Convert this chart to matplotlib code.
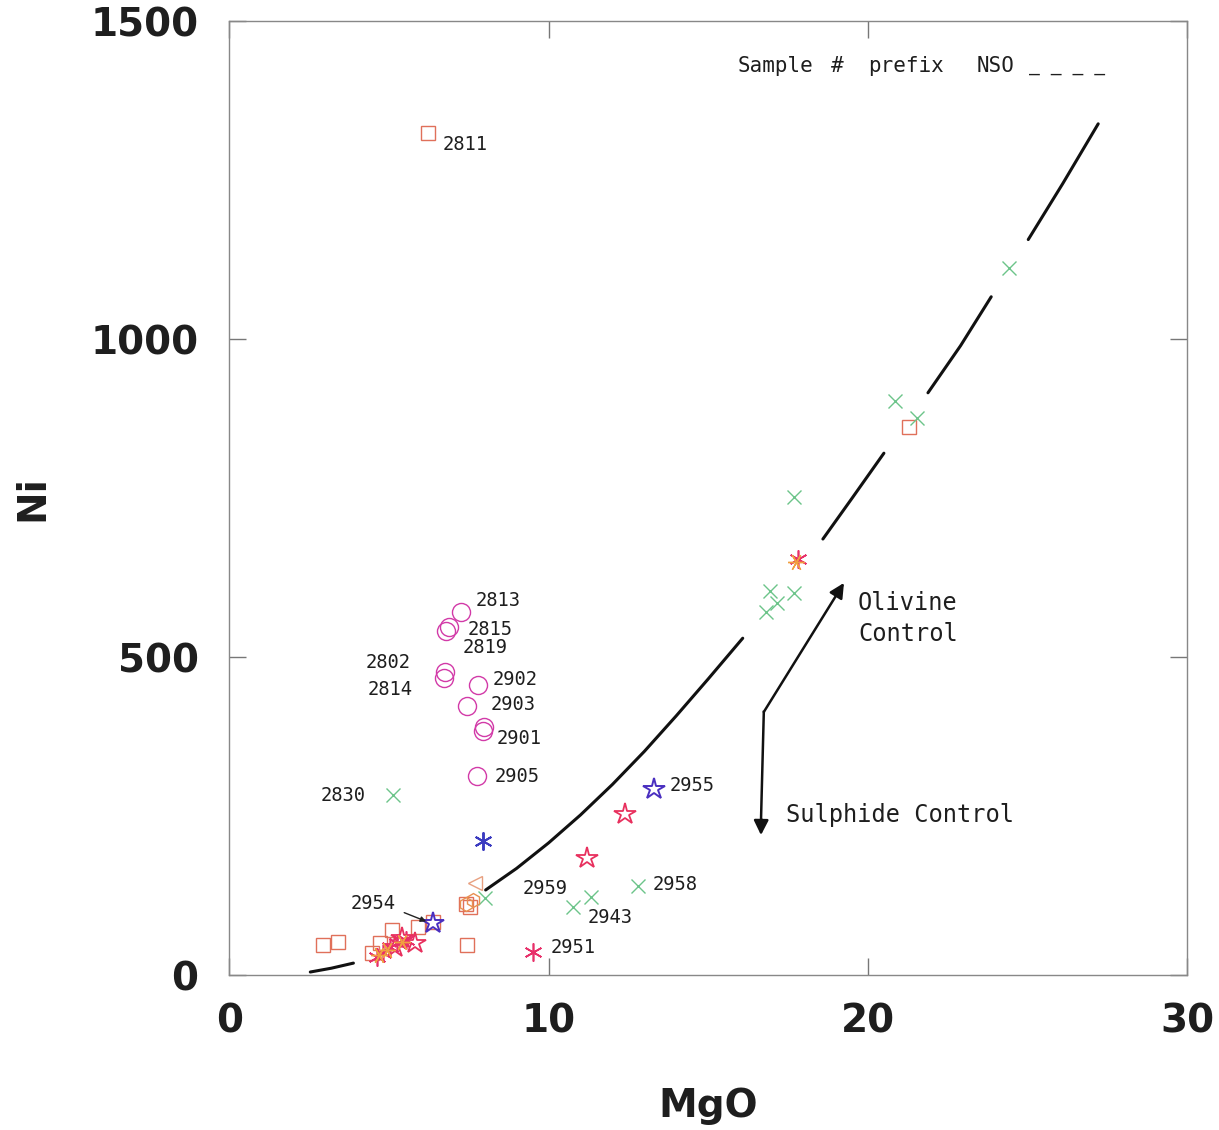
import matplotlib
matplotlib.use("Agg")
import matplotlib.pyplot as plt

# MgO (wt%) vs Ni (ppm) by sample group
sq_mgo = [6.24, 21.29, 2.95, 3.42, 7.46, 4.48, 4.73, 5.10, 5.92, 6.39, 7.40, 7.55]
sq_ni = [1325, 862, 47, 52, 47, 35, 50, 71, 76, 84, 112, 108]

circ_mgo = [7.27, 6.87, 6.80, 6.77, 6.74, 7.80, 7.46, 7.99, 7.96, 7.77]
circ_ni = [571, 548, 541, 477, 467, 456, 423, 390, 384, 313]

cross_mgo = [5.14, 24.42, 20.85, 21.54, 17.68, 16.93, 17.15, 16.80, 17.68, 12.79, 11.32, 10.78, 8.00]
cross_ni = [283, 1112, 903, 876, 752, 604, 585, 571, 601, 140, 123, 107, 121]

star_red_mgo = [11.19, 12.38, 5.83, 5.42, 5.20]
star_red_ni = [184, 253, 50, 58, 45]
star_blue_mgo = [13.29, 6.39]
star_blue_ni = [293, 82]

ast_blue_mgo = [7.96]
ast_blue_ni = [211]
ast_red_mgo = [9.50, 17.80, 4.64, 4.83, 5.05, 5.27, 5.55]
ast_red_ni = [36, 655, 28, 35, 44, 50, 56]
ast_orange_mgo = [17.75, 4.70, 4.95, 5.40]
ast_orange_ni = [650, 32, 40, 52]

hex_mgo = [7.40, 7.62]
hex_ni = [112, 118]
tri_mgo = [7.71]
tri_ni = [145]

# Model trend, drawn in broken segments
curve_segments = [
    ([2.54, 3.20, 3.89], [5, 11, 19]),
    ([8.03, 9.0, 10.0, 11.0, 12.0, 13.0, 14.0, 15.0, 16.08],
     [134, 168, 208, 252, 300, 352, 408, 466, 530]),
    ([18.59, 19.5, 20.5], [686, 750, 821]),
    ([21.88, 22.9, 23.86], [916, 990, 1067]),
    ([25.02, 26.1, 27.21], [1157, 1245, 1339]),
]

sample_labels = ["2811", "2813", "2815", "2819", "2802", "2814", "2902", "2903",
                 "2901", "2905", "2830", "2955", "2959", "2958", "2943", "2951", "2954"]
label_mgo = [6.68, 7.71, 7.46, 7.30, 4.26, 4.33, 8.24, 8.18,
             8.37, 8.31, 2.85, 13.79, 9.18, 13.26, 11.22, 10.06, 3.79]
label_ni = [1306, 590, 544, 516, 492, 450, 465, 426,
            373, 313, 283, 299, 137, 143, 90, 44, 112]

header_words = ["Sample", "#", "prefix", "NSO"]
header_mgo = [15.92, 18.84, 20.0, 23.39]

x_ticks = [0, 10, 20, 30]
y_ticks = [0, 500, 1000, 1500]

ink = "#1e1e1e"
mono = "DejaVu Sans Mono"

fig = plt.figure(figsize=(12.19, 11.30), dpi=100)
ax = fig.add_axes([0.188, 0.137, 0.786, 0.844])
ax.set_xlim(0, 30)
ax.set_ylim(0, 1500)

for xs, ys in curve_segments:
    ax.plot(xs, ys, color="#111111", lw=2.2, solid_capstyle="round", zorder=2)

mk = dict(linestyle="none", markerfacecolor="none", zorder=3)
ax.plot(sq_mgo, sq_ni, marker="s", ms=10, mec="#e0705a", mew=1.0, **mk)
ax.plot(circ_mgo, circ_ni, marker="o", ms=13, mec="#d23aa8", mew=1.0, **mk)
ax.plot(cross_mgo, cross_ni, marker="x", ms=10, mec="#6cc48a", mew=1.0, **mk)
ax.plot(star_red_mgo, star_red_ni, marker="*", ms=16, mec="#e8305e", mew=1.3, **mk)
ax.plot(star_blue_mgo, star_blue_ni, marker="*", ms=16, mec="#4a2fc0", mew=1.4, **mk)
ax.plot(ast_blue_mgo, ast_blue_ni, marker=(6, 2, 0), ms=13, mec="#3b3bc0", mew=1.4, **mk)
ax.plot(ast_red_mgo, ast_red_ni, marker=(6, 2, 0), ms=13, mec="#e8306a", mew=1.2, **mk)
ax.plot(ast_orange_mgo, ast_orange_ni, marker=(6, 2, 30), ms=12, mec="#f0a040", mew=1.0, **mk)
ax.plot(hex_mgo, hex_ni, marker="h", ms=10, mec="#e89050", mew=1.0, **mk)
ax.plot(tri_mgo, tri_ni, marker="<", ms=10, mec="#e8a080", mew=1.0, **mk)

for t, xv, yv in zip(sample_labels, label_mgo, label_ni):
    ax.text(xv, yv, t, ha="left", va="center", fontsize=13.5, color=ink, family=mono)

# leader for 2954
ax.annotate("", xy=(6.25, 83), xytext=(5.4, 100),
            arrowprops=dict(arrowstyle="-|>", color="#222222", lw=1.0,
                            mutation_scale=8))

# control vectors
ax.plot([16.74, 16.65], [414, 240], color="#111111", lw=1.8)
ax.annotate("", xy=(16.65, 216), xytext=(16.66, 250),
            arrowprops=dict(arrowstyle="-|>", color="#111111", lw=1.8,
                            mutation_scale=22))
ax.annotate("", xy=(19.25, 617), xytext=(16.74, 414),
            arrowprops=dict(arrowstyle="-|>", color="#111111", lw=1.8,
                            mutation_scale=22, shrinkA=0, shrinkB=0))

ax.text(19.69, 585, "Olivine", ha="left", va="center", fontsize=17, color=ink, family=mono)
ax.text(19.69, 537, "Control", ha="left", va="center", fontsize=17, color=ink, family=mono)
ax.text(17.43, 252, "Sulphide Control", ha="left", va="center", fontsize=17,
        color=ink, family=mono)
for w, xv in zip(header_words, header_mgo):
    ax.text(xv, 1430, w, ha="left", va="center", fontsize=15, color=ink, family=mono)
ax.text(25.05, 1430, "_ _ _ _", ha="left", va="center", fontsize=13, color=ink, family=mono)

ax.set_xticks(x_ticks)
ax.set_yticks(y_ticks)
ax.set_xticklabels([str(v) for v in x_ticks], fontsize=28, fontweight="bold", color=ink)
ax.set_yticklabels([str(v) for v in y_ticks], fontsize=28, fontweight="bold", color=ink)
ax.tick_params(direction="in", length=12, width=1.0, color="#777777",
               top=True, right=True, pad=20)
ax.tick_params(axis="y", pad=22)
for s in ax.spines.values():
    s.set_color("#888888")
    s.set_linewidth(1.0)

ax.set_xlabel("MgO", fontsize=28, fontweight="bold", color=ink, labelpad=33)
ax.set_ylabel("Ni", fontsize=28, fontweight="bold", color=ink, labelpad=28)

fig.savefig("out.png", dpi=100)
